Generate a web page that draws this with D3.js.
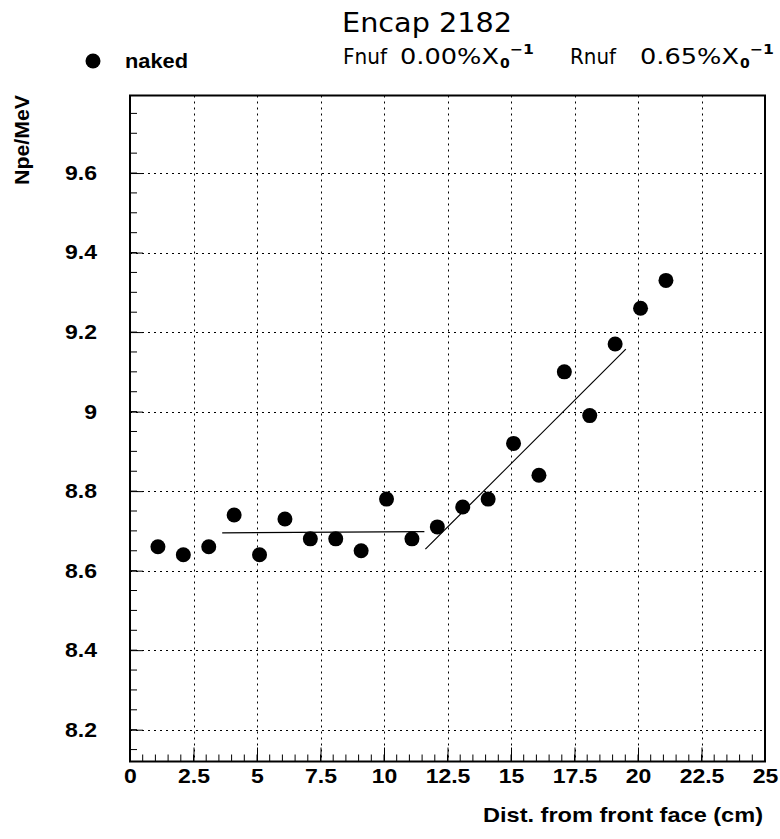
<!DOCTYPE html>
<html><head><meta charset="utf-8">
<script src="https://cdn.jsdelivr.net/npm/d3@7"></script>
<style>body{margin:0;background:#fff}</style>
</head><body>
<svg id="c" width="780" height="839"></svg>
<script>
const xVals = [1.1,2.1,3.1,4.1,5.1,6.1,7.1,8.1,9.1,10.1,11.1,12.1,13.1,14.1,15.1,16.1,17.1,18.1,19.1,20.1,21.1];
const yVals = [8.66,8.64,8.66,8.74,8.64,8.73,8.68,8.68,8.65,8.78,8.68,8.71,8.76,8.78,8.92,8.84,9.10,8.99,9.17,9.26,9.33];
const fitFront = [[3.63,8.695],[11.59,8.698]];
const fitRear = [[11.63,8.654],[19.52,9.157]];
const xTicks = [0,2.5,5,7.5,10,12.5,15,17.5,20,22.5,25];
const xTickLabels = ["0","2.5","5","7.5","10","12.5","15","17.5","20","22.5","25"];
const yTicks = [8.2,8.4,8.6,8.8,9.0,9.2,9.4,9.6];
const yTickLabels = ["8.2","8.4","8.6","8.8","9","9.2","9.4","9.6"];

const L=130,R=765,T=95.5,B=761.5;
const svg=d3.select("#c");
const x=d3.scaleLinear().domain([0,25]).range([L,R]);
const y=d3.scaleLinear().domain([8.12,9.795]).range([B,T]);
const lab='"Liberation Sans",Arial,sans-serif';

function stretch(sel,f){sel.each(function(){const w=this.getComputedTextLength();d3.select(this).attr("textLength",w*f).attr("lengthAdjust","spacingAndGlyphs");});}
function fitW(sel,w){sel.attr("textLength",w).attr("lengthAdjust","spacingAndGlyphs");}

// grid
const g=svg.append("g");
g.selectAll(".gx").data(xTicks.slice(1,-1)).join("line")
 .attr("x1",d=>Math.round(x(d))+0.5).attr("x2",d=>Math.round(x(d))+0.5).attr("y1",T).attr("y2",B)
 .attr("stroke","#000").attr("stroke-width",1).attr("stroke-dasharray","2,4");
g.selectAll(".gy").data(yTicks).join("line")
 .attr("y1",d=>Math.round(y(d))+0.5).attr("y2",d=>Math.round(y(d))+0.5).attr("x1",L).attr("x2",R)
 .attr("stroke","#000").attr("stroke-width",1).attr("stroke-dasharray","2,4");

// axes with ticks inside
const xAxis=d3.axisBottom(x).tickValues(xTicks).tickSize(-14).tickFormat((d,i)=>xTickLabels[i]).tickPadding(7);
const gx=svg.append("g").attr("transform",`translate(0,${B})`).call(xAxis);
gx.select(".domain").remove();
gx.selectAll("text").attr("font-family",lab).attr("font-weight","bold").attr("font-size",20).attr("fill","#000").call(stretch,1.15);
const xMinor=d3.range(0,25.001,0.5);
svg.append("g").selectAll("line").data(xMinor).join("line")
 .attr("x1",d=>x(d)).attr("x2",d=>x(d)).attr("y1",B).attr("y2",B-7).attr("stroke","#000");

const yAxis=d3.axisLeft(y).tickValues(yTicks).tickSize(-13).tickFormat((d,i)=>yTickLabels[i]).tickPadding(33);
const gy=svg.append("g").attr("transform",`translate(${L},0)`).call(yAxis);
gy.select(".domain").remove();
gy.selectAll("text").attr("font-family",lab).attr("font-weight","bold").attr("font-size",20).attr("fill","#000").call(stretch,1.15);
const yMinor=d3.range(8.15,9.7951,0.05);
svg.append("g").selectAll("line").data(yMinor).join("line")
 .attr("y1",d=>y(d)).attr("y2",d=>y(d)).attr("x1",L).attr("x2",L+7).attr("stroke","#000");

// frame
svg.append("rect").attr("x",L).attr("y",T).attr("width",R-L).attr("height",B-T)
 .attr("fill","none").attr("stroke","#000").attr("stroke-width",2);

// fits
const line=d3.line().x(d=>x(d[0])).y(d=>y(d[1]));
[fitFront,fitRear].forEach(f=>svg.append("path").attr("d",line(f)).attr("stroke","#000").attr("stroke-width",1.2).attr("fill","none"));

// points
svg.append("g").selectAll("circle").data(xVals).join("circle")
 .attr("cx",d=>x(d)).attr("cy",(d,i)=>y(yVals[i])).attr("r",7.5).attr("fill","#000");

// legend
svg.append("circle").attr("cx",93).attr("cy",61).attr("r",7.5).attr("fill","#000");
svg.append("text").attr("x",125).attr("y",68).text("naked").attr("font-family",lab).attr("font-weight","bold").attr("font-size",20).call(fitW,63);

// titles
const tf='"DejaVu Sans",sans-serif';
svg.append("text").attr("x",342).attr("y",32).text("Encap 2182").attr("font-family",tf).attr("font-size",27).call(fitW,170);
function addSub(xpos,label,w){
  svg.append("text").attr("x",xpos).attr("y",64).attr("font-family",tf).attr("font-size",22).text(label).call(fitW,w);
}
addSub(343,"Fnuf",44);
addSub(570,"Rnuf",46);
function addVal(xpos,val){
  svg.append("text").attr("x",xpos).attr("y",64).attr("font-family",tf).attr("font-size",22).text(val+"%X").call(fitW,99);
  svg.append("text").attr("x",xpos+100).attr("y",68).attr("font-family",tf).attr("font-size",14).attr("font-weight","bold").text("0");
  svg.append("text").attr("x",xpos+110).attr("y",54).attr("font-family",tf).attr("font-size",14).attr("font-weight","bold").text("−1").call(fitW,24);
}
addVal(400,"0.00");
addVal(640,"0.65");

// axis titles
svg.append("text").attr("x",763).attr("y",822).attr("text-anchor","end").text("Dist. from front face (cm)")
 .attr("font-family",lab).attr("font-weight","bold").attr("font-size",21).call(fitW,280);
svg.append("text").attr("transform","translate(29,95) rotate(-90)").attr("text-anchor","end").text("Npe/MeV")
 .attr("font-family",lab).attr("font-weight","bold").attr("font-size",20).call(fitW,90);
</script>
</body></html>
